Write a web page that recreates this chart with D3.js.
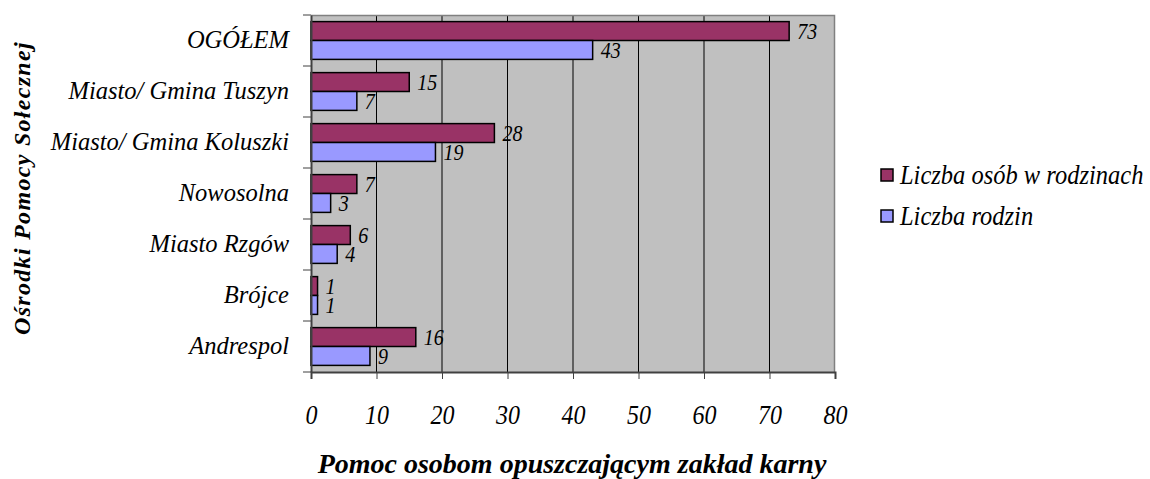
<!DOCTYPE html>
<html><head><meta charset="utf-8">
<script src="https://cdn.jsdelivr.net/npm/d3@7"></script>
<style>body{margin:0;background:#fff;} svg{display:block;}</style>
</head><body>
<script>
const categories = ["OGÓŁEM","Miasto/ Gmina Tuszyn","Miasto/ Gmina Koluszki","Nowosolna","Miasto Rzgów","Brójce","Andrespol"];
const osoby = [73,15,28,7,6,1,16];
const rodziny = [43,7,19,3,4,1,9];
const seriesNames = ["Liczba osób w rodzinach","Liczba rodzin"];
const xTicks = [0,10,20,30,40,50,60,70,80];
const colors = ["#993366","#9999FF"];

const FONT="Liberation Serif";
function tx(sel,size,weight){
  return sel.style("font-family",FONT).style("font-style","italic").style("font-size",size+"px").style("font-weight",weight||"normal").attr("fill","#000");
}
function stretch(sel,sy){
  sel.each(function(){
    const t=d3.select(this);
    const xx=+t.attr("x")||0, yy=+t.attr("y")||0;
    t.attr("x",0).attr("y",0).attr("transform",`translate(${xx},${yy}) scale(1,${sy})`);
  });
}

const W=1150,H=479;
const svg=d3.select("body").append("svg").attr("width",W).attr("height",H);
const L=311,R=835,T=15,B=372;
const x=d3.scaleLinear().domain([0,80]).range([L,R]);
const y=d3.scaleBand().domain(categories).range([T,B]).paddingInner(0).paddingOuter(0);
const inner=d3.scaleBand().domain([0,1]).range([0,y.bandwidth()]).paddingOuter(0.35).paddingInner(0);

svg.append("rect").attr("x",L).attr("y",T).attr("width",x(80)-L).attr("height",B-T).attr("fill","#C0C0C0");
svg.append("g").selectAll("line").data(xTicks.slice(1,-1)).join("line")
  .attr("x1",d=>x(d)).attr("x2",d=>x(d)).attr("y1",T).attr("y2",B).attr("stroke","#000").attr("stroke-width",1);
svg.append("path").attr("d",`M${L},${T+0.5}H${x(80)-0.5}V${B}`).attr("fill","none").attr("stroke","#808080").attr("stroke-width",1.5);

const data=categories.map((c,i)=>({c,v:[osoby[i],rodziny[i]]}));
const g=svg.append("g");
data.forEach(d=>{
  d.v.forEach((v,j)=>{
    const yy=y(d.c)+inner(j);
    g.append("rect").attr("x",x(0)).attr("y",yy).attr("width",x(v)-x(0)).attr("height",inner.bandwidth())
      .attr("fill",colors[j]).attr("stroke","#000").attr("stroke-width",1.5);
    const t=g.append("text").attr("x",x(v)+8).attr("y",yy+inner.bandwidth()/2).attr("dy","0.35em").text(v);
    tx(t,20);
    stretch(t,1.12);
  });
});

const xa=svg.append("g").attr("transform",`translate(0,${B})`).call(d3.axisBottom(x).tickValues(xTicks).tickSize(7).tickPadding(26));
xa.select(".domain").attr("stroke","#404040").attr("stroke-width",2);
xa.selectAll(".tick line").attr("stroke","#404040");
tx(xa.selectAll("text"),24);
stretch(xa.selectAll("text"),1.13);

const ya=svg.append("g").attr("transform",`translate(${L},0)`).call(d3.axisLeft(y).tickSize(0).tickPadding(22));
ya.select(".domain").attr("stroke","#404040").attr("stroke-width",2);
tx(ya.selectAll("text"),24.5);
svg.append("g").selectAll("line").data(d3.range(categories.length+1)).join("line")
  .attr("x1",L-8).attr("x2",L).attr("y1",i=>T+i*y.step()).attr("y2",i=>T+i*y.step()).attr("stroke","#404040");

tx(svg.append("text").attr("x",572).attr("y",473).attr("text-anchor","middle").text("Pomoc osobom opuszczającym zakład karny"),28,"bold");
tx(svg.append("text").attr("transform","translate(30,188) rotate(-90)").attr("text-anchor","middle").style("letter-spacing","1.3px").text("Ośrodki Pomocy Sołecznej"),24,"bold");

const lg=svg.append("g").attr("transform","translate(881,169)");
seriesNames.forEach((n,i)=>{
  lg.append("rect").attr("x",0).attr("y",i*41).attr("width",12).attr("height",12).attr("fill",colors[i]).attr("stroke","#000").attr("stroke-width",1.5);
  const t=lg.append("text").attr("x",19).attr("y",i*41+6).attr("dy","0.35em").text(n);
  tx(t,24.5);
  stretch(t,1.1);
});
</script>
</body></html>
